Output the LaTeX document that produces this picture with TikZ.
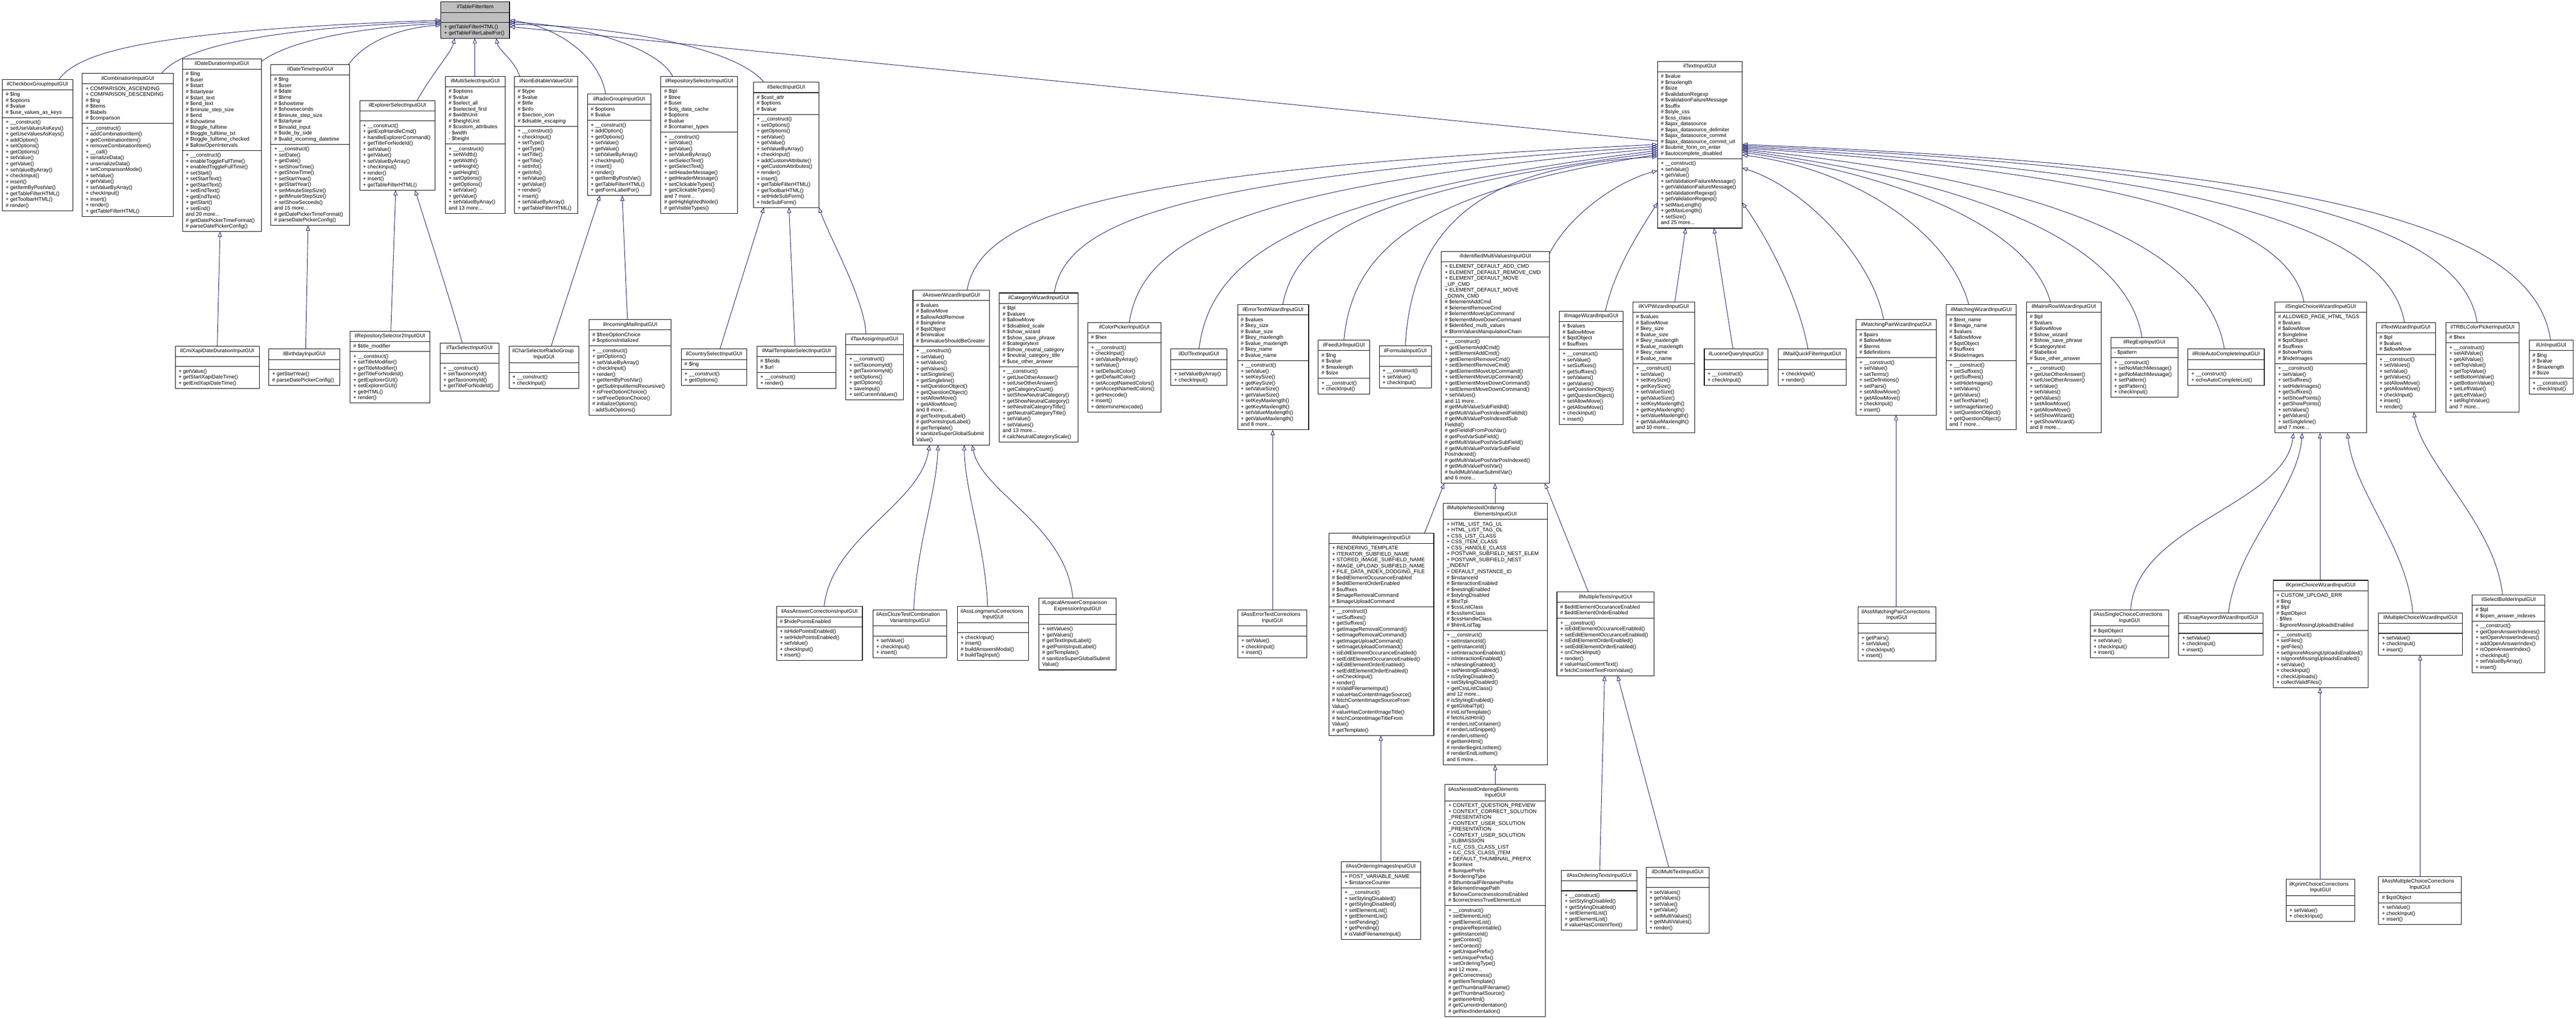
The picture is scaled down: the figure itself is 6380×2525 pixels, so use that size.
\documentclass[tikz,border=0pt]{standalone}
\usepackage{fontspec}
\setmainfont{Liberation Sans}
\usetikzlibrary{arrows.meta}
\pgfdeclarelayer{bg}\pgfsetlayers{bg,main}
\definecolor{edgeblue}{RGB}{25,25,112}
\definecolor{topgray}{RGB}{191,191,191}
\newcommand\umlfont{\fontsize{13}{14.7}\selectfont}
\def\clsfill{white}
\def\getcounts#1,#2,#3\relax{\def\nT{#1}\def\nA{#2}\def\nM{#3}}
\newcommand\twotitle[2]{%
  \node[anchor=base west,font=\umlfont,inner sep=0pt] at (\cx+8,\cy+16) {#1};
  \node[anchor=base,font=\umlfont,inner sep=0pt] at (\cx+\cw/2,\cy+30.7) {#2};}
\newcommand\umlcls[8]{%
  \getcounts#5\relax
  \def\cx{#2}\def\cy{#3}\def\cw{#4}%
  \pgfmathsetmacro\hT{\nT*14.7+11}%
  \pgfmathsetmacro\hA{\nA*14.7+10}%
  \pgfmathsetmacro\hM{\nM*14.7+10}%
  \pgfmathsetmacro\hTot{\hT+\hA+\hM}%
  \node[clsbox,minimum width=#4pt,minimum height=\hTot pt,anchor=north west] (#1) at (#2,#3) {};
  \draw[clsline] (#2,#3+\hT) -- ++(#4,0);
  \draw[clsline] (#2,#3+\hT+\hA) -- ++(#4,0);
  \ifnum\nT=2 \twotitle#6\else
  \node[anchor=base,font=\umlfont,inner sep=0pt] at (#2+#4/2,#3+16) {#6};\fi
  \node[members] at (#2+8,#3+\hT+5) {\rule{0pt}{10.6pt}#7};
  \node[members] at (#2+8,#3+\hT+\hA+5) {\rule{0pt}{10.6pt}#8};
}
\tikzset{
  clsbox/.style={draw=black,fill=\clsfill,line width=1.4pt,inner sep=0pt,outer sep=0pt},
  clsline/.style={draw=black,line width=1.4pt},
  members/.style={anchor=north west,align=left,inner sep=0pt,font=\umlfont},
  inh/.style={draw=edgeblue,line width=1.2pt,-{Triangle[open,length=13pt,width=10pt]}}
}
\begin{document}
\begin{tikzpicture}[x=1pt,y=-1pt]
\useasboundingbox (0,0) rectangle (6380,2525);
\begin{pgfonlayer}{bg}
\fill[white] (0,0) rectangle (6380,2525);
\end{pgfonlayer}
% ---------- top
\def\clsfill{topgray}
\umlcls{ttf}{1092}{5}{170}{1,1,2}{ilTableFilterItem}{}{+ getTableFilterHTML()\\+ getTableFilterLabelFor()}
\def\clsfill{white}
% ---------- row 1
\umlcls{cbg}{6}{197}{174}{1,4,15}{ilCheckboxGroupInputGUI}
{\# \$lng\\\# \$options\\\# \$value\\\# \$use\_values\_as\_keys}
{+ \_\_construct()\\+ setUseValuesAsKeys()\\+ getUseValuesAsKeys()\\+ addOption()\\+ setOptions()\\+ getOptions()\\+ setValue()\\+ getValue()\\+ setValueByArray()\\+ checkInput()\\+ insert()\\+ getItemByPostVar()\\+ getTableFilterHTML()\\+ getToolbarHTML()\\\# render()}
\umlcls{cmb}{204}{182}{225}{1,6,15}{ilCombinationInputGUI}
{+ COMPARISON\_ASCENDING\\+ COMPARISON\_DESCENDING\\\# \$lng\\\# \$items\\\# \$labels\\\# \$comparison}
{+ \_\_construct()\\+ addCombinationItem()\\+ getCombinationItem()\\+ removeCombinationItem()\\+ \_\_call()\\+ serializeData()\\+ unserializeData()\\+ setComparisonMode()\\+ setValue()\\+ getValue()\\+ setValueByArray()\\+ checkInput()\\+ insert()\\+ render()\\+ getTableFilterHTML()}
\umlcls{ddi}{452}{146}{195}{1,13,13}{ilDateDurationInputGUI}
{\# \$lng\\\# \$user\\\# \$start\\\# \$startyear\\\# \$start\_text\\\# \$end\_text\\\# \$minute\_step\_size\\\# \$end\\\# \$showtime\\\# \$toggle\_fulltime\\\# \$toggle\_fulltime\_txt\\\# \$toggle\_fulltime\_checked\\\# \$allowOpenIntervals}
{+ \_\_construct()\\+ enableToggleFullTime()\\+ enabledToggleFullTime()\\+ setStart()\\+ setStartText()\\+ getStartText()\\+ setEndText()\\+ getEndText()\\+ getStart()\\+ setEnd()\\and 20 more...\\\# getDatePickerTimeFormat()\\\# parseDatePickerConfig()}
\umlcls{dti}{671}{160}{195}{1,11,13}{ilDateTimeInputGUI}
{\# \$lng\\\# \$user\\\# \$date\\\# \$time\\\# \$showtime\\\# \$showseconds\\\# \$minute\_step\_size\\\# \$startyear\\\# \$invalid\_input\\\# \$side\_by\_side\\\# \$valid\_incoming\_datetime}
{+ \_\_construct()\\+ setDate()\\+ getDate()\\+ setShowTime()\\+ getShowTime()\\+ setStartYear()\\+ getStartYear()\\+ setMinuteStepSize()\\+ getMinuteStepSize()\\+ setShowSeconds()\\and 15 more...\\\# getDatePickerTimeFormat()\\\# parseDatePickerConfig()}
\umlcls{esi}{891}{249}{187}{1,1,11}{ilExplorerSelectInputGUI}{}
{+ \_\_construct()\\+ getExplHandleCmd()\\+ handleExplorerCommand()\\+ getTitleForNodeId()\\+ setValue()\\+ getValue()\\+ setValueByArray()\\+ checkInput()\\+ render()\\+ insert()\\+ getTableFilterHTML()}
\umlcls{msi}{1103}{189}{148}{1,9,11}{ilMultiSelectInputGUI}
{\# \$options\\\# \$value\\\# \$select\_all\\\# \$selected\_first\\\# \$widthUnit\\\# \$heightUnit\\\# \$custom\_attributes\\- \$width\\- \$height}
{+ \_\_construct()\\+ setWidth()\\+ getWidth()\\+ setHeight()\\+ getHeight()\\+ setOptions()\\+ getOptions()\\+ setValue()\\+ getValue()\\+ setValueByArray()\\and 13 more...}
\umlcls{nev}{1274}{189}{157}{1,6,14}{ilNonEditableValueGUI}
{\# \$type\\\# \$value\\\# \$title\\\# \$info\\\# \$section\_icon\\\# \$disable\_escaping}
{+ \_\_construct()\\+ checkInput()\\+ setType()\\+ getType()\\+ setTitle()\\+ getTitle()\\+ setInfo()\\+ getInfo()\\+ setValue()\\+ getValue()\\+ render()\\+ insert()\\+ setValueByArray()\\+ getTableFilterHTML()}
\umlcls{rgi}{1455}{233}{157}{1,2,12}{ilRadioGroupInputGUI}
{\# \$options\\\# \$value}
{+ \_\_construct()\\+ addOption()\\+ getOptions()\\+ setValue()\\+ getValue()\\+ setValueByArray()\\+ checkInput()\\+ insert()\\+ render()\\+ getItemByPostVar()\\+ getTableFilterHTML()\\+ getFormLabelFor()}
\umlcls{rsi}{1637}{189}{190}{1,7,13}{ilRepositorySelectorInputGUI}
{\# \$tpl\\\# \$tree\\\# \$user\\\# \$obj\_data\_cache\\\# \$options\\\# \$value\\\# \$container\_types}
{+ \_\_construct()\\+ setValue()\\+ getValue()\\+ setValueByArray()\\+ setSelectText()\\+ getSelectText()\\+ setHeaderMessage()\\+ getHeaderMessage()\\+ setClickableTypes()\\+ getClickableTypes()\\and 7 more...\\\# getHighlightedNode()\\\# getVisibleTypes()}
\umlcls{sel}{1866}{204}{162}{1,3,15}{ilSelectInputGUI}
{\# \$cust\_attr\\\# \$options\\\# \$value}
{+ \_\_construct()\\+ setOptions()\\+ getOptions()\\+ setValue()\\+ getValue()\\+ setValueByArray()\\+ checkInput()\\+ addCustomAttribute()\\+ getCustomAttributes()\\+ render()\\+ insert()\\+ getTableFilterHTML()\\+ getToolbarHTML()\\+ setHideSubForm()\\+ hideSubForm()}
\umlcls{tig}{4105}{152}{210}{1,14,11}{ilTextInputGUI}
{\# \$value\\\# \$maxlength\\\# \$size\\\# \$validationRegexp\\\# \$validationFailureMessage\\\# \$suffix\\\# \$style\_css\\\# \$css\_class\\\# \$ajax\_datasource\\\# \$ajax\_datasource\_delimiter\\\# \$ajax\_datasource\_commit\\\# \$ajax\_datasource\_commit\_url\\\# \$submit\_form\_on\_enter\\\# \$autocomplete\_disabled}
{+ \_\_construct()\\+ setValue()\\+ getValue()\\+ setValidationFailureMessage()\\+ getValidationFailureMessage()\\+ setValidationRegexp()\\+ getValidationRegexp()\\+ setMaxLength()\\+ getMaxLength()\\+ setSize()\\and 25 more...}
% ---------- row 2
\umlcls{cmx}{434}{858}{208}{1,1,3}{ilCmiXapiDateDurationInputGUI}{}{+ getValue()\\+ getStartXapiDateTime()\\+ getEndXapiDateTime()}
\umlcls{bdy}{666}{865}{175}{1,1,2}{ilBirthdayInputGUI}{}{+ getStartYear()\\\# parseDatePickerConfig()}
\umlcls{rs2}{867}{821}{198}{1,1,8}{ilRepositorySelector2InputGUI}{\# \$title\_modifier}
{+ \_\_construct()\\+ setTitleModifier()\\+ getTitleModifier()\\+ getTitleForNodeId()\\+ getExplorerGUI()\\+ setExplorerGUI()\\+ getHTML()\\+ render()}
\umlcls{txs}{1090}{850}{146}{1,1,4}{ilTaxSelectInputGUI}{}{+ \_\_construct()\\+ setTaxonomyId()\\+ getTaxonomyId()\\+ getTitleForNodeId()}
\umlcls{csr}{1261}{858}{172}{2,1,2}{{ilCharSelectorRadioGroup}{InputGUI}}{}{+ \_\_construct()\\+ checkInput()}
\umlcls{iml}{1459}{792}{203}{1,2,11}{ilIncomingMailInputGUI}{\# \$freeOptionChoice\\\# \$optionsInitialized}
{+ \_\_construct()\\+ getOptions()\\+ setValueByArray()\\+ checkInput()\\+ render()\\+ getItemByPostVar()\\+ getSubInputItemsRecursive()\\+ isFreeOptionChoice()\\+ setFreeOptionChoice()\\\# initializeOptions()\\- addSubOptions()}
\umlcls{csi}{1687}{865}{163}{1,1,2}{ilCountrySelectInputGUI}{\# \$lng}{+ \_\_construct()\\+ getOptions()}
\umlcls{mts}{1875}{858}{195}{1,2,2}{ilMailTemplateSelectInputGUI}{\# \$fields\\\# \$url}{+ \_\_construct()\\+ render()}
\umlcls{txa}{2095}{828}{142}{1,1,7}{ilTaxAssignInputGUI}{}
{+ \_\_construct()\\+ setTaxonomyId()\\+ getTaxonomyId()\\+ setOptions()\\+ getOptions()\\+ saveInput()\\+ setCurrentValues()}
\umlcls{awz}{2261}{719}{190}{1,7,16}{ilAnswerWizardInputGUI}
{\# \$values\\\# \$allowMove\\\# \$allowAddRemove\\\# \$singleline\\\# \$qstObject\\\# \$minvalue\\\# \$minvalueShouldBeGreater}
{+ \_\_construct()\\+ setValue()\\+ setValues()\\+ getValues()\\+ setSingleline()\\+ getSingleline()\\+ setQuestionObject()\\+ getQuestionObject()\\+ setAllowMove()\\+ getAllowMove()\\and 8 more...\\\# getTextInputLabel()\\\# getPointsInputLabel()\\\# getTemplate()\\\# sanitizeSuperGlobalSubmit\\Value()}
\umlcls{cwz}{2475}{726}{195}{1,10,12}{ilCategoryWizardInputGUI}
{\# \$tpl\\\# \$values\\\# \$allowMove\\\# \$disabled\_scale\\\# \$show\_wizard\\\# \$show\_save\_phrase\\\# \$categorytext\\\# \$show\_neutral\_category\\\# \$neutral\_category\_title\\\# \$use\_other\_answer}
{+ \_\_construct()\\+ getUseOtherAnswer()\\+ setUseOtherAnswer()\\+ getCategoryCount()\\+ setShowNeutralCategory()\\+ getShowNeutralCategory()\\+ setNeutralCategoryTitle()\\+ getNeutralCategoryTitle()\\+ setValue()\\+ setValues()\\and 13 more...\\\# calcNeutralCategoryScale()}
\umlcls{cpi}{2694}{799}{181}{1,1,11}{ilColorPickerInputGUI}{\# \$hex}
{+ \_\_construct()\\+ checkInput()\\+ setValueByArray()\\+ setValue()\\+ setDefaultColor()\\+ getDefaultColor()\\+ setAcceptNamedColors()\\+ getAcceptNamedColors()\\+ getHexcode()\\+ insert()\\+ determineHexcode()}
\umlcls{dct}{2900}{865}{139}{1,1,2}{ilDclTextInputGUI}{}{+ setValueByArray()\\+ checkInput()}
\umlcls{etw}{3065}{755}{176}{1,7,11}{ilErrorTextWizardInputGUI}
{\# \$values\\\# \$key\_size\\\# \$value\_size\\\# \$key\_maxlength\\\# \$value\_maxlength\\\# \$key\_name\\\# \$value\_name}
{+ \_\_construct()\\+ setValue()\\+ setKeySize()\\+ getKeySize()\\+ setValueSize()\\+ getValueSize()\\+ setKeyMaxlength()\\+ getKeyMaxlength()\\+ setValueMaxlength()\\+ getValueMaxlength()\\and 8 more...}
\umlcls{fui}{3265}{843}{127}{1,4,2}{ilFeedUrlInputGUI}{\# \$lng\\\# \$value\\\# \$maxlength\\\# \$size}{+ \_\_construct()\\+ checkInput()}
\umlcls{fmi}{3416}{857}{129}{1,1,3}{ilFormulaInputGUI}{}{+ \_\_construct()\\+ setValue()\\+ checkInput()}
\umlcls{imv}{3570}{623}{267}{1,12,24}{ilIdentifiedMultiValuesInputGUI}
{+ ELEMENT\_DEFAULT\_ADD\_CMD\\+ ELEMENT\_DEFAULT\_REMOVE\_CMD\\+ ELEMENT\_DEFAULT\_MOVE\\\_UP\_CMD\\+ ELEMENT\_DEFAULT\_MOVE\\\_DOWN\_CMD\\\# \$elementAddCmd\\\# \$elementRemoveCmd\\\# \$elementMoveUpCommand\\\# \$elementMoveDownCommand\\\# \$identified\_multi\_values\\\# \$formValuesManipulationChain}
{+ \_\_construct()\\+ getElementAddCmd()\\+ setElementAddCmd()\\+ getElementRemoveCmd()\\+ setElementRemoveCmd()\\+ getElementMoveUpCommand()\\+ setElementMoveUpCommand()\\+ getElementMoveDownCommand()\\+ setElementMoveDownCommand()\\+ setValues()\\and 11 more...\\\# getMultiValueSubFieldId()\\\# getMultiValuePosIndexedFieldId()\\\# getMultiValuePosIndexedSub\\FieldId()\\\# getFieldIdFromPostVar()\\\# getPostVarSubField()\\\# getMultiValuePostVarSubField()\\\# getMultiValuePostVarSubField\\PosIndexed()\\\# getMultiValuePostVarPosIndexed()\\\# getMultiValuePostVar()\\\# buildMultiValueSubmitVar()\\and 6 more...}
\umlcls{iwz}{3862}{771}{158}{1,4,12}{ilImageWizardInputGUI}{\# \$values\\\# \$allowMove\\\# \$qstObject\\\# \$suffixes}
{+ \_\_construct()\\+ setValue()\\+ setSuffixes()\\+ getSuffixes()\\+ setValues()\\+ getValues()\\+ setQuestionObject()\\+ getQuestionObject()\\+ setAllowMove()\\+ getAllowMove()\\+ checkInput()\\+ insert()}
\umlcls{kvp}{4044}{748}{153}{1,8,11}{ilKVPWizardInputGUI}
{\# \$values\\\# \$allowMove\\\# \$key\_size\\\# \$value\_size\\\# \$key\_maxlength\\\# \$value\_maxlength\\\# \$key\_name\\\# \$value\_name}
{+ \_\_construct()\\+ setValue()\\+ setKeySize()\\+ getKeySize()\\+ setValueSize()\\+ getValueSize()\\+ setKeyMaxlength()\\+ getKeyMaxlength()\\+ setValueMaxlength()\\+ getValueMaxlength()\\and 10 more...}
\umlcls{lqi}{4221}{865}{158}{1,1,2}{ilLuceneQueryInputGUI}{}{+ \_\_construct()\\+ checkInput()}
\umlcls{mqf}{4404}{865}{168}{1,1,2}{ilMailQuickFilterInputGUI}{}{+ checkInput()\\+ render()}
\umlcls{mpw}{4597}{792}{199}{1,4,9}{ilMatchingPairWizardInputGUI}{\# \$pairs\\\# \$allowMove\\\# \$terms\\\# \$definitions}
{+ \_\_construct()\\+ setValue()\\+ setTerms()\\+ setDefinitions()\\+ setPairs()\\+ setAllowMove()\\+ getAllowMove()\\+ checkInput()\\+ insert()}
\umlcls{mwz}{4820}{755}{174}{1,7,11}{ilMatchingWizardInputGUI}
{\# \$text\_name\\\# \$image\_name\\\# \$values\\\# \$allowMove\\\# \$qstObject\\\# \$suffixes\\\# \$hideImages}
{+ \_\_construct()\\+ setSuffixes()\\+ getSuffixes()\\+ setHideImages()\\+ setValues()\\+ getValues()\\+ setTextName()\\+ setImageName()\\+ setQuestionObject()\\+ getQuestionObject()\\and 7 more...}
\umlcls{mrw}{5019}{748}{185}{1,8,11}{ilMatrixRowWizardInputGUI}
{\# \$tpl\\\# \$values\\\# \$allowMove\\\# \$show\_wizard\\\# \$show\_save\_phrase\\\# \$categorytext\\\# \$labeltext\\\# \$use\_other\_answer}
{+ \_\_construct()\\+ getUseOtherAnswer()\\+ setUseOtherAnswer()\\+ setValue()\\+ setValues()\\+ getValues()\\+ setAllowMove()\\+ getAllowMove()\\+ setShowWizard()\\+ getShowWizard()\\and 8 more...}
\umlcls{rxi}{5228}{836}{166}{1,1,6}{ilRegExpInputGUI}{- \$pattern}
{+ \_\_construct()\\+ setNoMatchMessage()\\+ getNoMatchMessage()\\+ setPattern()\\+ getPattern()\\+ checkInput()}
\umlcls{rac}{5419}{865}{189}{1,1,2}{ilRoleAutoCompleteInputGUI}{}{+ \_\_construct()\\+ echoAutoCompleteList()}
\umlcls{scw}{5634}{748}{227}{1,8,11}{ilSingleChoiceWizardInputGUI}
{\# ALLOWED\_PAGE\_HTML\_TAGS\\\# \$values\\\# \$allowMove\\\# \$singleline\\\# \$qstObject\\\# \$suffixes\\\# \$showPoints\\\# \$hideImages}
{+ \_\_construct()\\+ setValue()\\+ setSuffixes()\\+ setHideImages()\\+ getSuffixes()\\+ setShowPoints()\\+ getShowPoints()\\+ setValues()\\+ getValues()\\+ setSingleline()\\and 7 more...}
\umlcls{twz}{5885}{799}{147}{1,3,9}{ilTextWizardInputGUI}{\# \$tpl\\\# \$values\\\# \$allowMove}
{+ \_\_construct()\\+ setValues()\\+ setValue()\\+ getValues()\\+ setAllowMove()\\+ getAllowMove()\\+ checkInput()\\+ insert()\\+ render()}
\umlcls{trb}{6058}{799}{181}{1,1,11}{ilTRBLColorPickerInputGUI}{\# \$hex}
{+ \_\_construct()\\+ setAllValue()\\+ getAllValue()\\+ setTopValue()\\+ getTopValue()\\+ setBottomValue()\\+ getBottomValue()\\+ setLeftValue()\\+ getLeftValue()\\+ setRightValue()\\and 7 more...}
\umlcls{uri}{6264}{843}{109}{1,4,2}{ilUriInputGUI}{\# \$lng\\\# \$value\\\# \$maxlength\\\# \$size}{+ \_\_construct()\\+ checkInput()}
% ---------- row 3
\umlcls{aac}{1923}{1503}{213}{1,1,5}{ilAssAnswerCorrectionsInputGUI}{\# \$hidePointsEnabled}
{+ isHidePointsEnabled()\\+ setHidePointsEnabled()\\+ setValue()\\+ checkInput()\\+ insert()}
\umlcls{act}{2162}{1511}{183}{2,1,3}{{ilAssClozeTestCombination}{VariantsInputGUI}}{}{+ setValue()\\+ checkInput()\\+ insert()}
\umlcls{alm}{2371}{1503}{177}{2,1,4}{{ilAssLongmenuCorrections}{InputGUI}}{}{+ checkInput()\\+ insert()\\\# buildAnswersModal()\\\# buildTagInput()}
\umlcls{lac}{2573}{1482}{191}{2,1,7}{{ilLogicalAnswerComparison}{ExpressionInputGUI}}{}
{+ setValues()\\+ getValues()\\\# getTextInputLabel()\\\# getPointsInputLabel()\\\# getTemplate()\\\# sanitizeSuperGlobalSubmit\\Value()}
\umlcls{aet}{3066}{1511}{170}{2,1,3}{{ilAssErrorTextCorrections}{InputGUI}}{}{+ setValue()\\+ checkInput()\\+ insert()}
\umlcls{mim}{3291}{1321}{260}{1,10,21}{ilMultipleImagesInputGUI}
{+ RENDERING\_TEMPLATE\\+ ITERATOR\_SUBFIELD\_NAME\\+ STORED\_IMAGE\_SUBFIELD\_NAME\\+ IMAGE\_UPLOAD\_SUBFIELD\_NAME\\+ FILE\_DATA\_INDEX\_DODGING\_FILE\\\# \$editElementOccuranceEnabled\\\# \$editElementOrderEnabled\\\# \$suffixes\\\# \$imageRemovalCommand\\\# \$imageUploadCommand}
{+ \_\_construct()\\+ setSuffixes()\\+ getSuffixes()\\+ getImageRemovalCommand()\\+ setImageRemovalCommand()\\+ getImageUploadCommand()\\+ setImageUploadCommand()\\+ isEditElementOccuranceEnabled()\\+ setEditElementOccuranceEnabled()\\+ isEditElementOrderEnabled()\\+ setEditElementOrderEnabled()\\+ onCheckInput()\\+ render()\\\# isValidFilenameInput()\\\# valueHasContentImageSource()\\\# fetchContentImageSourceFrom\\Value()\\\# valueHasContentImageTitle()\\\# fetchContentImageTitleFrom\\Value()\\\# getTemplate()}
\umlcls{mno}{3575}{1247}{257}{2,18,22}{{ilMultipleNestedOrdering}{ElementsInputGUI}}
{+ HTML\_LIST\_TAG\_UL\\+ HTML\_LIST\_TAG\_OL\\+ CSS\_LIST\_CLASS\\+ CSS\_ITEM\_CLASS\\+ CSS\_HANDLE\_CLASS\\+ POSTVAR\_SUBFIELD\_NEST\_ELEM\\+ POSTVAR\_SUBFIELD\_NEST\\\_INDENT\\+ DEFAULT\_INSTANCE\_ID\\\# \$instanceId\\\# \$interactionEnabled\\\# \$nestingEnabled\\\# \$stylingDisabled\\\# \$listTpl\\\# \$cssListClass\\\# \$cssItemClass\\\# \$cssHandleClass\\\# \$htmlListTag}
{+ \_\_construct()\\+ setInstanceId()\\+ getInstanceId()\\+ setInteractionEnabled()\\+ isInteractionEnabled()\\+ isNestingEnabled()\\+ setNestingEnabled()\\+ isStylingDisabled()\\+ setStylingDisabled()\\+ getCssListClass()\\and 12 more...\\\# isStylingEnabled()\\\# getGlobalTpl()\\\# initListTemplate()\\\# fetchListHtml()\\\# renderListContainer()\\\# renderListSnippet()\\\# renderListItem()\\\# getItemHtml()\\\# renderBeginListItem()\\\# renderEndListItem()\\and 6 more...}
\umlcls{mtx}{3856}{1467}{241}{1,2,9}{ilMultipleTextsInputGUI}{\# \$editElementOccuranceEnabled\\\# \$editElementOrderEnabled}
{+ \_\_construct()\\+ isEditElementOccuranceEnabled()\\+ setEditElementOccuranceEnabled()\\+ isEditElementOrderEnabled()\\+ setEditElementOrderEnabled()\\+ onCheckInput()\\+ render()\\\# valueHasContentText()\\\# fetchContentTextFromValue()}
\umlcls{amp}{4602}{1504}{192}{2,1,4}{{ilAssMatchingPairCorrections}{InputGUI}}{}{+ getPairs()\\+ setValue()\\+ checkInput()\\+ insert()}
\umlcls{asc}{5177}{1511}{194}{2,1,3}{{ilAssSingleChoiceCorrections}{InputGUI}}{\# \$qstObject}{+ setValue()\\+ checkInput()\\+ insert()}
\umlcls{ekw}{5396}{1519}{209}{1,1,3}{ilEssayKeywordWizardInputGUI}{}{+ setValue()\\+ checkInput()\\+ insert()}
\umlcls{kpw}{5630}{1438}{235}{1,6,9}{ilKprimChoiceWizardInputGUI}
{+ CUSTOM\_UPLOAD\_ERR\\\# \$lng\\\# \$tpl\\\# \$qstObject\\- \$files\\- \$ignoreMissingUploadsEnabled}
{+ \_\_construct()\\+ setFiles()\\+ getFiles()\\+ setIgnoreMissingUploadsEnabled()\\+ isIgnoreMissingUploadsEnabled()\\+ setValue()\\+ checkInput()\\+ checkUploads()\\+ collectValidFiles()}
\umlcls{mcw}{5891}{1519}{207}{1,1,3}{ilMultipleChoiceWizardInputGUI}{}{+ setValue()\\+ checkInput()\\+ insert()}
\umlcls{sbi}{6123}{1474}{180}{1,2,8}{ilSelectBuilderInputGUI}{\# \$tpl\\\# \$open\_answer\_indexes}
{+ \_\_construct()\\+ getOpenAnswerIndexes()\\+ setOpenAnswerIndexes()\\+ addOpenAnswerIndex()\\+ isOpenAnswerIndex()\\+ checkInput()\\+ setValueByArray()\\+ insert()}
% ---------- row 4
\umlcls{aoi}{3322}{2135}{196}{1,2,8}{ilAssOrderingImagesInputGUI}{+ POST\_VARIABLE\_NAME\\+ \$instanceCounter}
{+ \_\_construct()\\+ setStylingDisabled()\\+ getStylingDisabled()\\+ setElementList()\\+ getElementList()\\+ setPending()\\+ getPending()\\\# isValidFilenameInput()}
\umlcls{ano}{3579}{1944}{248}{2,17,18}{{ilAssNestedOrderingElements}{InputGUI}}
{+ CONTEXT\_QUESTION\_PREVIEW\\+ CONTEXT\_CORRECT\_SOLUTION\\\_PRESENTATION\\+ CONTEXT\_USER\_SOLUTION\\\_PRESENTATION\\+ CONTEXT\_USER\_SOLUTION\\\_SUBMISSION\\+ ILC\_CSS\_CLASS\_LIST\\+ ILC\_CSS\_CLASS\_ITEM\\+ DEFAULT\_THUMBNAIL\_PREFIX\\\# \$context\\\# \$uniquePrefix\\\# \$orderingType\\\# \$thumbnailFilenamePrefix\\\# \$elementImagePath\\\# \$showCorrectnessIconsEnabled\\\# \$correctnessTrueElementList}
{+ \_\_construct()\\+ setElementList()\\+ getElementList()\\+ prepareReprintable()\\+ getInstanceId()\\+ getContext()\\+ setContext()\\+ getUniquePrefix()\\+ setUniquePrefix()\\+ setOrderingType()\\and 12 more...\\\# getCorrectness()\\\# getItemTemplate()\\\# getThumbnailFilename()\\\# getThumbnailSource()\\\# getItemHtml()\\\# getCurrentIndentation()\\\# getNextIndentation()}
\umlcls{aot}{3867}{2157}{187}{1,1,6}{ilAssOrderingTextsInputGUI}{}
{+ \_\_construct()\\+ setStylingDisabled()\\+ getStylingDisabled()\\+ setElementList()\\+ getElementList()\\\# valueHasContentText()}
\umlcls{dmt}{4077}{2149}{156}{1,1,7}{ilDclMultiTextInputGUI}{}
{+ setValues()\\+ getValues()\\+ setValue()\\+ getValue()\\+ setMultiValues()\\+ getMultiValues()\\+ render()}
\umlcls{kpc}{5662}{2179}{170}{2,1,2}{{ilKprimChoiceCorrections}{InputGUI}}{}{+ setValue()\\+ checkInput()}
\umlcls{amc}{5891}{2172}{205}{2,1,3}{{ilAssMultipleChoiceCorrections}{InputGUI}}{\# \$qstObject}{+ setValue()\\+ checkInput()\\+ insert()}
% ---------- connectors
\begin{pgfonlayer}{bg}
% to ilTableFilterItem
\draw[inh] ([xshift=140pt]cbg.north west) .. controls (200,120) and (420,75) .. ([yshift=-45pt]ttf.north west);
\draw[inh] ([xshift=196pt]cmb.north west) .. controls (440,130) and (600,72) .. ([yshift=-49pt]ttf.north west);
\draw[inh] ([yshift=-7pt]ddi.north east) .. controls (690,118) and (820,72) .. ([yshift=-53pt]ttf.north west);
\draw[inh] ([xshift=192pt]dti.north west) .. controls (900,108) and (980,70) .. ([yshift=-57pt]ttf.north west);
\draw[inh] ([xshift=142pt]esi.north west) .. controls (1075,175) and (1118,130) .. ([xshift=34pt]ttf.south west);
\draw[inh] ([xshift=73pt]msi.north west) -- ([xshift=84pt]ttf.south west);
\draw[inh] ([xshift=13pt]nev.north west) .. controls (1275,150) and (1235,125) .. ([xshift=137pt]ttf.south west);
\draw[inh] ([xshift=45pt]rgi.north west) .. controls (1485,140) and (1380,66) .. ([yshift=-45pt]ttf.north east);
\draw[inh] ([xshift=29pt]rsi.north west) .. controls (1630,120) and (1450,62) .. ([yshift=-50pt]ttf.north east);
\draw[inh] ([xshift=26pt]sel.north west) .. controls (1830,125) and (1560,66) .. ([yshift=-55pt]ttf.north east);
\draw[inh] ([yshift=-197pt]tig.north west) -- ([yshift=-61pt]ttf.north east);
% row 2 -> row 1
\draw[inh] (cmx.north) -- ([xshift=93pt]ddi.south west);
\draw[inh] ([xshift=91pt]bdy.north west) -- ([xshift=92pt]dti.south west);
\draw[inh] ([xshift=101pt]rs2.north west) -- ([xshift=89pt]esi.south west);
\draw[inh] ([xshift=55pt]txs.north west) .. controls (1120,760) and (1075,620) .. ([xshift=137pt]esi.south west);
\draw[inh] ([xshift=104pt]csr.north west) -- ([xshift=31pt]rgi.south west);
\draw[inh] ([xshift=95pt]iml.north west) -- ([xshift=86pt]rgi.south west);
\draw[inh] ([xshift=96pt]csi.north west) -- ([xshift=26pt]sel.south west);
\draw[inh] ([xshift=94pt]mts.north west) -- ([xshift=88pt]sel.south west);
\draw[inh] ([xshift=50pt]txa.north west) .. controls (2140,740) and (2060,600) .. (sel.south east);
% to ilTextInputGUI
\draw[inh] ([xshift=134pt]awz.north west) .. controls (2430,520) and (2800,420) .. ([yshift=-206pt]tig.north west);
\draw[inh] ([xshift=136pt]cwz.north west) .. controls (2640,540) and (2950,440) .. ([yshift=-211pt]tig.north west);
\draw[inh] ([xshift=103pt]cpi.north west) .. controls (2830,580) and (3100,460) .. ([yshift=-216pt]tig.north west);
\draw[inh] (dct.north) .. controls (3000,620) and (3250,480) .. ([yshift=-221pt]tig.north west);
\draw[inh] ([xshift=112pt]etw.north west) .. controls (3210,580) and (3400,470) .. ([yshift=-226pt]tig.north west);
\draw[inh] (fui.north) .. controls (3350,600) and (3550,470) .. ([yshift=-231pt]tig.north west);
\draw[inh] (fmi.north) .. controls (3500,500) and (3750,410) .. ([yshift=-236pt]tig.north west);
\draw[inh] ([yshift=-7pt]imv.north east) .. controls (3880,540) and (4000,450) .. ([yshift=-271pt]tig.north west);
\draw[inh] ([xshift=114pt]iwz.north west) .. controls (4000,660) and (4070,560) .. ([yshift=-350pt]tig.north west);
\draw[inh] ([xshift=104pt]kvp.north west) -- ([xshift=70pt]tig.south west);
\draw[inh] ([xshift=71pt]lqi.north west) -- ([xshift=140pt]tig.south west);
\draw[inh] ([xshift=74pt]mqf.north west) .. controls (4450,720) and (4370,580) .. ([yshift=-350pt]tig.north east);
\draw[inh] ([xshift=68pt]mpw.north west) .. controls (4640,650) and (4480,470) .. ([yshift=-264pt]tig.north east);
\draw[inh] ([xshift=56pt]mwz.north west) .. controls (4830,580) and (4600,420) .. ([yshift=-232pt]tig.north east);
\draw[inh] ([xshift=59pt]mrw.north west) .. controls (5040,600) and (4800,450) .. ([yshift=-225pt]tig.north east);
\draw[inh] ([xshift=77pt]rxi.north west) .. controls (5270,620) and (4950,460) .. ([yshift=-221pt]tig.north east);
\draw[inh] ([xshift=90pt]rac.north west) .. controls (5470,620) and (5100,450) .. ([yshift=-218pt]tig.north east);
\draw[inh] ([xshift=72pt]scw.north west) .. controls (5670,560) and (5300,430) .. ([yshift=-215pt]tig.north east);
\draw[inh] ([xshift=70pt]twz.north west) .. controls (5920,590) and (5550,430) .. ([yshift=-212pt]tig.north east);
\draw[inh] ([xshift=77pt]trb.north west) .. controls (6100,580) and (5700,420) .. ([yshift=-209pt]tig.north east);
\draw[inh] ([xshift=53pt]uri.north west) .. controls (6280,600) and (5900,420) .. ([yshift=-206pt]tig.north east);
% row 3 -> row 2
\draw[inh] ([xshift=118pt]aac.north west) .. controls (2060,1330) and (2280,1250) .. ([xshift=41pt]awz.south west);
\draw[inh] ([xshift=101pt]act.north west) .. controls (2270,1350) and (2320,1220) .. ([xshift=62pt]awz.south west);
\draw[inh] ([xshift=75pt]alm.north west) .. controls (2440,1350) and (2390,1220) .. ([xshift=127pt]awz.south west);
\draw[inh] ([xshift=84pt]lac.north west) .. controls (2640,1300) and (2430,1220) .. ([xshift=147pt]awz.south west);
\draw[inh] ([xshift=86pt]aet.north west) -- ([xshift=87pt]etw.south west);
\draw[inh] ([xshift=237pt]mim.north west) -- ([xshift=7pt]imv.south west);
\draw[inh] ([xshift=128pt]mno.north west) -- ([xshift=133pt]imv.south west);
\draw[inh] ([xshift=78pt]mtx.north west) -- ([xshift=256pt]imv.south west);
\draw[inh] ([xshift=94pt]amp.north west) -- ([xshift=99pt]mpw.south west);
\draw[inh] ([xshift=100pt]asc.north west) .. controls (5290,1300) and (5660,1250) .. ([xshift=46pt]scw.south west);
\draw[inh] ([xshift=123pt]ekw.north west) .. controls (5540,1350) and (5690,1220) .. ([xshift=68pt]scw.south west);
\draw[inh] ([xshift=116pt]kpw.north west) -- ([xshift=112pt]scw.south west);
\draw[inh] ([xshift=85pt]mcw.north west) .. controls (5960,1350) and (5830,1220) .. ([xshift=180pt]scw.south west);
\draw[inh] ([xshift=75pt]sbi.north west) .. controls (6180,1300) and (6000,1150) .. ([xshift=93pt]twz.south west);
% row 4 -> row 3
\draw[inh] ([xshift=98pt]aoi.north west) -- ([xshift=129pt]mim.south west);
\draw[inh] ([xshift=124pt]ano.north west) -- ([xshift=128pt]mno.south west);
\draw[inh] ([xshift=95pt]aot.north west) -- ([xshift=118pt]mtx.south west);
\draw[inh] ([xshift=56pt]dmt.north west) -- ([xshift=150pt]mtx.south west);
\draw[inh] ([xshift=84pt]kpc.north west) -- ([xshift=116pt]kpw.south west);
\draw[inh] ([xshift=103pt]amc.north west) -- ([xshift=103pt]mcw.south west);
\end{pgfonlayer}
\end{tikzpicture}
\end{document}
